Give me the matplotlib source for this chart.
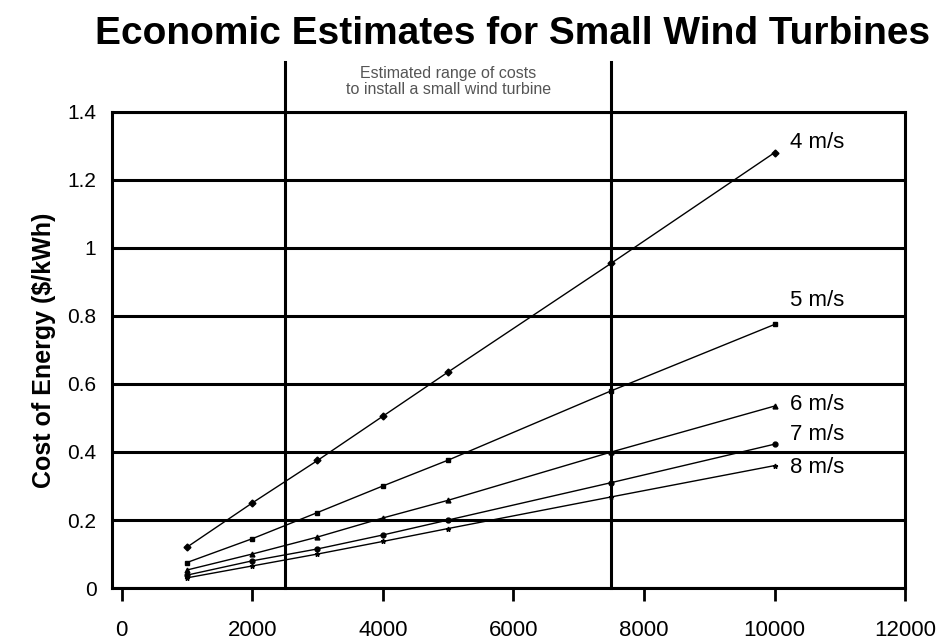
import numpy as np
import matplotlib
matplotlib.use("Agg")
from matplotlib import pyplot as plt
from matplotlib.ticker import FuncFormatter

plt.rcParams['font.family'] = ['Liberation Sans', 'DejaVu Sans']

# installed cost ($) and cost of energy ($/kWh) for each wind speed
cost = [1000, 2000, 3000, 4000, 5000, 7500, 10000]
ws4 = [0.12, 0.25, 0.375, 0.505, 0.635, 0.955, 1.28]
ws5 = [0.075, 0.145, 0.222, 0.30, 0.376, 0.58, 0.775]
ws6 = [0.053, 0.10, 0.15, 0.206, 0.258, 0.40, 0.535]
ws7 = [0.038, 0.08, 0.115, 0.156, 0.20, 0.31, 0.423]
ws8 = [0.03, 0.065, 0.10, 0.137, 0.175, 0.268, 0.36]
labels = ["4 m/s", "5 m/s", "6 m/s", "7 m/s", "8 m/s"]
label_y = [1.31, 0.845, 0.54, 0.45, 0.355]
markers = ["D", "s", "^", "o", "*"]
range_lo, range_hi = 2500, 7500

fig = plt.figure(figsize=(9.47, 6.42), dpi=100)
ax = fig.add_axes([0.118, 0.084, 0.838, 0.742])

for ys, lab, ly, m in zip([ws4, ws5, ws6, ws7, ws8], labels, label_y, markers):
    ax.plot(cost, ys, color="black", lw=1.0, marker=m, ms=3.5)
    ax.text(cost[-1] + 230, ly, lab, fontsize=16, va="center")

ax.set_xlim(-150, 11950)
ax.set_ylim(0, 1.4)
ax.set_xticks(np.arange(0, 12001, 2000))
ax.set_yticks(np.arange(0, 1.41, 0.2))
ax.yaxis.set_major_formatter(FuncFormatter(lambda v, p: "%g" % round(v, 1)))
ax.grid(axis="y", color="black", lw=2.2)
ax.set_axisbelow(True)
for s in ax.spines.values():
    s.set_linewidth(2.2)
ax.tick_params(axis="x", length=9, width=2, labelsize=16, pad=14)
ax.tick_params(axis="y", length=0, labelsize=15, pad=11)

for xv in (range_lo, range_hi):
    ax.axvline(xv, ymin=0, ymax=1.105, color="black", lw=2.2, clip_on=False)
ax.text((range_lo + range_hi) / 2, 1.488, "Estimated range of costs\nto install a small wind turbine",
        ha="center", va="center", fontsize=11.5, color="#555555", linespacing=1.1)

ax.set_ylabel("Cost of Energy ($/kWh)", fontsize=18, fontweight="bold", labelpad=8)
fig.suptitle("Economic Estimates for Small Wind Turbines", fontsize=28, fontweight="bold", x=0.541, y=0.975)

fig.savefig("out.png", dpi=100)
